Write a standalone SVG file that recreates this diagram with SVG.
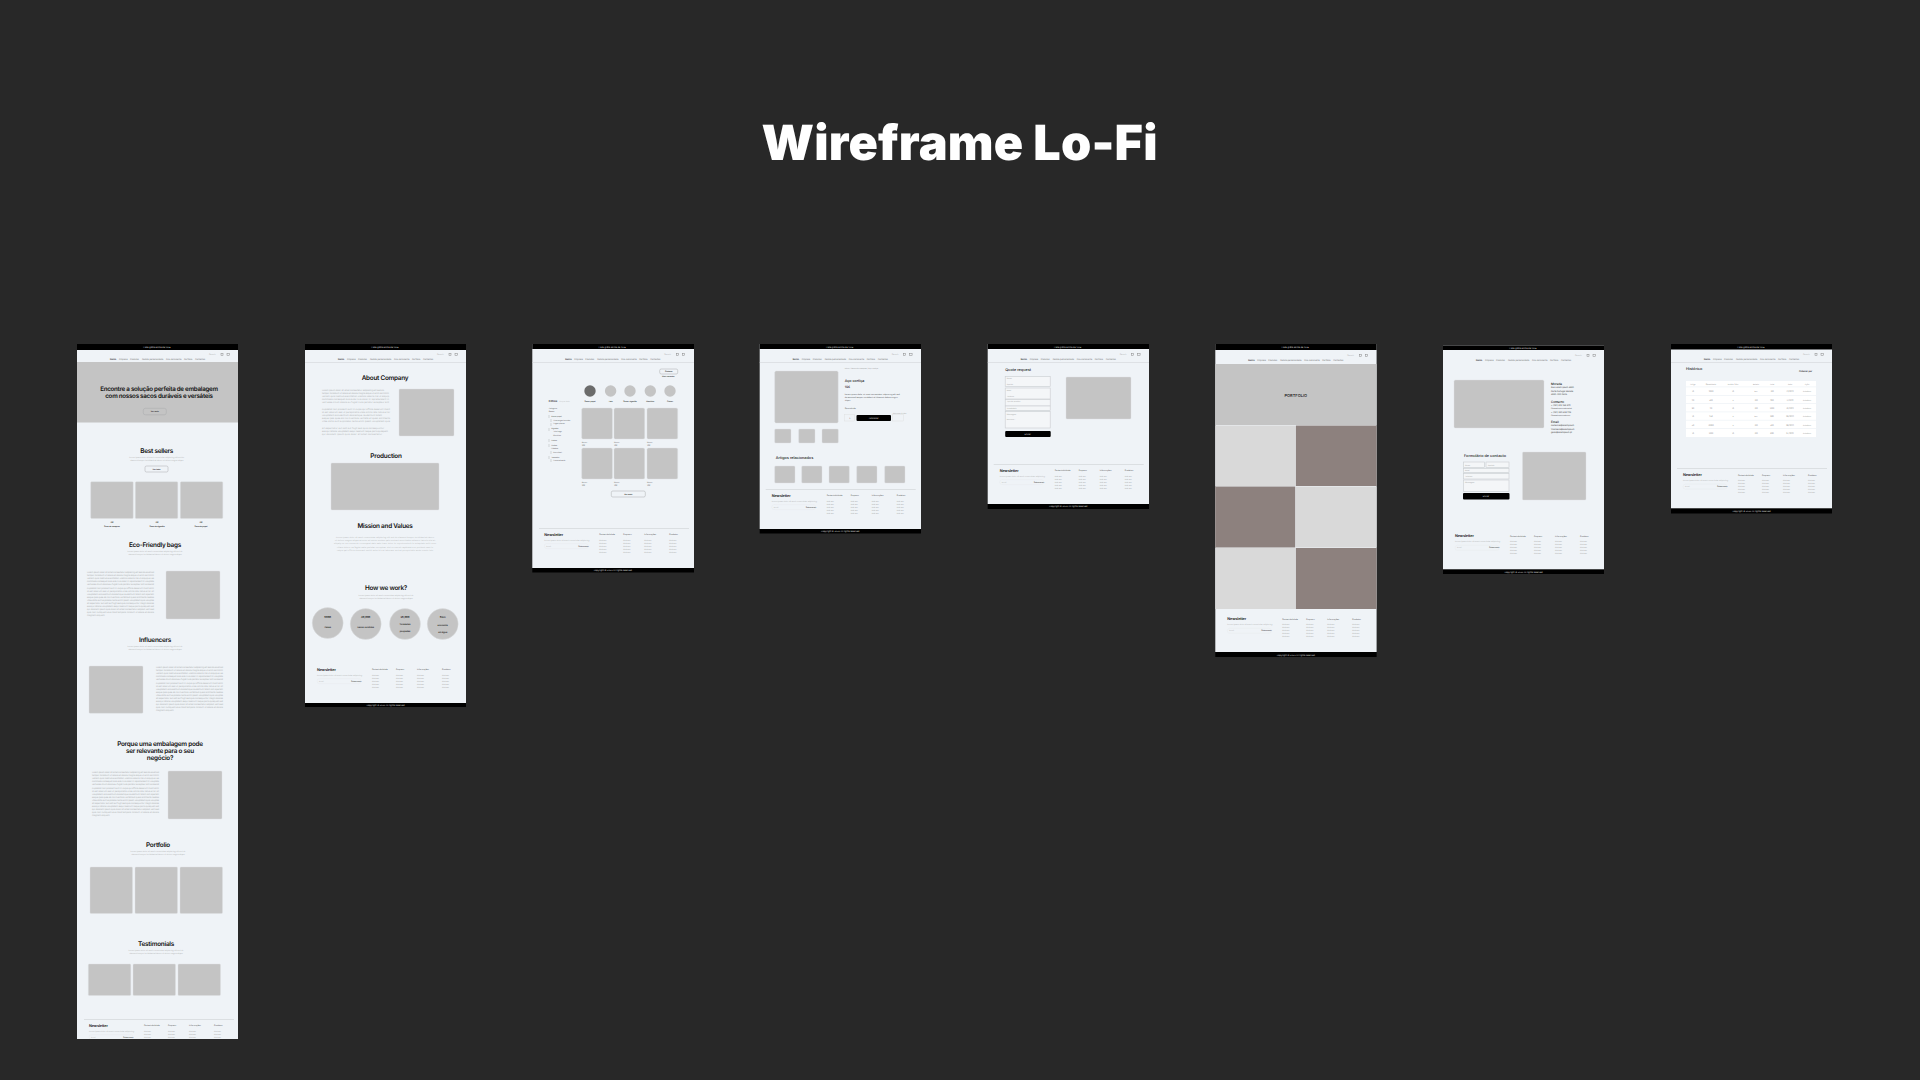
<svg xmlns="http://www.w3.org/2000/svg" width="1920" height="1080" viewBox="0 0 1920 1080">
<style>
svg{font-family:Inter,"Liberation Sans",sans-serif;text-rendering:geometricPrecision}
.f{fill:#eff3f7}
.k{fill:#000}
.i{fill:#c4c4c4;stroke:#dde0e3;stroke-width:.4}
text{fill:#111}
.h{font-size:6.4px;font-weight:600;text-anchor:middle;letter-spacing:-.25px;fill:#111}
.s{font-size:1.9px;fill:#aaa;text-anchor:middle}
.p{font-size:2.2px;fill:#b2b4b6}
.p text{fill:#b2b4b6}
.b{font-size:1.9px;font-weight:600;text-anchor:middle;fill:#222}
.l{font-size:2.1px;fill:#777}
.r{fill:#d3d6d9}
.o{fill:none;stroke:#a9abad;stroke-width:.5}
.in{fill:#f4f6f8;stroke:#c9cccf;stroke-width:.6}
.t{font-size:2.2px;fill:#ddd;text-anchor:middle}
.g1 text{fill:#999}.g2 text{fill:#666}.g3 text{fill:#444}.g4 text{fill:#aaa}.g5 text{fill:#888}.g6 text{fill:#555}
</style>
<defs>
<clipPath id="c1"><rect x="0" y="344" width="161" height="695"/></clipPath>
<g id="nav">
<text x="33" y="0" font-size="2.4" font-weight="700">Início</text>
<text x="42" y="0" class="l">Empresa</text>
<text x="53" y="0" class="l">Produtos</text>
<text x="65" y="0" class="l">Pedido personalizado</text>
<text x="89" y="0" class="l">Eco-consciente</text>
<text x="107" y="0" class="l">Portfólio</text>
<text x="118" y="0" class="l">Contactos</text>
<text x="132" y="-5" font-size="2" style="fill:#aaa">Search</text>
<rect x="144" y="-6.6" width="2" height="2" fill="none" stroke="#888" stroke-width=".5"/>
<rect x="150" y="-6.6" width="2.4" height="2.2" fill="none" stroke="#888" stroke-width=".5"/>
</g>
<g id="footer">
<text x="12" y="1.5" font-size="3.8" font-weight="600" letter-spacing="-.1">Newsletter</text>
<text x="12" y="6.6" font-size="1.9" style="fill:#aaa">Lorem ipsum dolor sit amet consectetur adipiscing</text>
<rect x="12" y="9.6" width="44" height="5" rx="2.5" fill="none" stroke="#e6e9ec" stroke-width=".4"/>
<text x="14" y="12.8" font-size="1.9" style="fill:#bbb">Email</text>
<text x="46" y="12.8" font-size="1.9" font-weight="600" style="fill:#555">Subscrever</text>
<g font-size="2" class="g3">
<text x="67" y="1">Sustentabilidade</text><text x="91" y="1">Empresa</text><text x="112" y="1">Informações</text><text x="137" y="1">Produtos</text>
</g>
<g font-size="1.9" class="g1">
<text x="67" y="6.5">Link um</text><text x="67" y="9.5">Link um</text><text x="67" y="12.5">Link um</text><text x="67" y="15.5">Link um</text><text x="67" y="18.5">Link um</text>
<text x="91" y="6.5">Link um</text><text x="91" y="9.5">Link um</text><text x="91" y="12.5">Link um</text><text x="91" y="15.5">Link um</text><text x="91" y="18.5">Link um</text>
<text x="112" y="6.5">Link um</text><text x="112" y="9.5">Link um</text><text x="112" y="12.5">Link um</text><text x="112" y="15.5">Link um</text><text x="112" y="18.5">Link um</text>
<text x="137" y="6.5">Link um</text><text x="137" y="9.5">Link um</text><text x="137" y="12.5">Link um</text><text x="137" y="15.5">Link um</text><text x="137" y="18.5">Link um</text>
</g>
</g>
<g id="sub">
<text x="0" y="0" class="s">Lorem ipsum dolor sit amet consectetur adipiscing elit sed do</text>
<text x="0" y="3.4" class="s">eiusmod tempor incididunt ut labore et dolore magna aliqua</text>
</g>
<g id="lorem" class="p">
<text y="0" textLength="67" lengthAdjust="spacing">Lorem ipsum dolor sit amet consectetur adipiscing elit sed do eiusmod</text>
<text y="3.1" textLength="67" lengthAdjust="spacing">tempor incididunt ut labore et dolore magna aliqua ut enim ad minim</text>
<text y="6.2" textLength="67" lengthAdjust="spacing">veniam quis nostrud exercitation ullamco laboris nisi ut aliquip ex ea</text>
<text y="9.3" textLength="67" lengthAdjust="spacing">commodo consequat duis aute irure dolor in reprehenderit in voluptate</text>
<text y="12.4" textLength="67" lengthAdjust="spacing">velit esse cillum dolore eu fugiat nulla pariatur excepteur sint occaecat</text>
<text y="15.5" textLength="67" lengthAdjust="spacing">cupidatat non proident sunt in culpa qui officia deserunt mollit anim</text>
<text y="18.6" textLength="67" lengthAdjust="spacing">id est laborum sed ut perspiciatis unde omnis iste natus error sit</text>
<text y="21.7" textLength="67" lengthAdjust="spacing">voluptatem accusantium doloremque laudantium totam rem aperiam</text>
<text y="24.8" textLength="67" lengthAdjust="spacing">eaque ipsa quae ab illo inventore veritatis et quasi architecto beatae</text>
<text y="27.9" textLength="67" lengthAdjust="spacing">vitae dicta sunt explicabo nemo enim ipsam voluptatem quia voluptas</text>
<text y="31" textLength="67" lengthAdjust="spacing">sit aspernatur aut odit aut fugit sed quia consequuntur magni dolores</text>
<text y="34.1" textLength="67" lengthAdjust="spacing">eos qui ratione voluptatem sequi nesciunt neque porro quisquam est</text>
<text y="37.2" textLength="67" lengthAdjust="spacing">qui dolorem ipsum quia dolor sit amet consectetur adipisci velit sed</text>
<text y="40.3" textLength="67" lengthAdjust="spacing">quia non numquam eius modi tempora incidunt ut labore et dolore</text>
<text y="43.4">magnam aliquam</text>
</g>
</defs>
<rect width="1920" height="1080" fill="#282828"/>
<text id="title" x="761.500" y="160" font-size="48.500" font-weight="900" textLength="396" lengthAdjust="spacing" style="fill:#fff">Wireframe Lo-Fi</text>

<g id="frame-home" transform="translate(77,0)" clip-path="url(#c1)">
<rect y="344" width="161" height="695" class="f"/><rect y="344" width="161" height="6" class="k"/>
<text x="80" y="348" class="t">Frete grátis acima de 100€</text>
<use href="#nav" y="360"/>
<rect y="362" width="161" height="60.500" fill="#c4c4c4"/>
<text x="82" y="391" class="h" style="font-size:6.2px">Encontre a solução perfeita de embalagem</text>
<text x="82" y="398.200" class="h" style="font-size:6.2px">com nossos sacos duráveis e versáteis</text>
<rect x="66.300" y="408.300" width="23" height="6.500" rx="2" class="o"/><text x="77.800" y="412.300" class="b">Ver mais</text>
<text x="79.700" y="453" class="h">Best sellers</text><use href="#sub" x="79.700" y="457.500"/>
<rect x="68" y="466" width="23" height="6" rx="1.500" class="o"/><text x="79.500" y="469.800" class="b">Ver tudo</text>
<rect x="13.700" y="481.700" width="42.500" height="36.800" rx="1" class="i"/><rect x="58.300" y="481.700" width="42.500" height="36.800" rx="1" class="i"/><rect x="103.300" y="481.700" width="42.500" height="36.800" rx="1" class="i"/>
<text x="35" y="523" class="b">10€</text><text x="35" y="527" class="b">Saco de compras</text>
<text x="80" y="523" class="b">10€</text><text x="80" y="527" class="b">Saco de algodão</text>
<text x="124" y="523" class="b">10€</text><text x="124" y="527" class="b">Saco de papel</text>
<text x="78" y="547.300" class="h">Eco-Friendly bags</text><use href="#sub" x="78" y="552"/>
<use href="#lorem" x="10" y="573"/>
<rect x="89" y="571" width="54" height="48" rx="1" class="i"/>
<text x="78" y="642.300" class="h">Influencers</text><use href="#sub" x="78" y="647"/>
<rect x="12" y="666" width="54" height="47.300" rx="1" class="i"/>
<use href="#lorem" x="79" y="668"/>
<text x="83" y="746.300" class="h">Porque uma embalagem pode</text>
<text x="83" y="753.300" class="h">ser relevante para o seu</text>
<text x="83" y="760.300" class="h">negócio?</text>
<use href="#lorem" x="15" y="773"/>
<rect x="91" y="771" width="54" height="48" rx="1" class="i"/>
<text x="81" y="846.800" class="h">Portfolio</text><use href="#sub" x="81" y="851.500"/>
<rect x="13" y="867" width="42.500" height="46.500" rx="1" class="i"/><rect x="58" y="867" width="42.500" height="46.500" rx="1" class="i"/><rect x="103" y="867" width="42.500" height="46.500" rx="1" class="i"/>
<text x="79" y="946.300" class="h">Testimonials</text><use href="#sub" x="79" y="950.500"/>
<rect x="11.300" y="964" width="42.500" height="31.500" rx="1" class="i"/><rect x="56" y="964" width="42.500" height="31.500" rx="1" class="i"/><rect x="101" y="964" width="42.500" height="31.500" rx="1" class="i"/>
<rect x="7" y="1019.300" width="150" height=".7" class="r"/>
<use href="#footer" y="1025"/>
</g>

<g id="frame-about" transform="translate(305,0)">
<rect y="344" width="161" height="359" class="f"/><rect y="344" width="161" height="6" class="k"/><rect y="703" width="161" height="4" class="k"/>
<text x="80" y="348" class="t">Frete grátis acima de 100€</text>
<use href="#nav" y="360"/><rect y="362" width="161" height=".6" class="r"/>
<text x="80" y="379.800" class="h">About Company</text>
<g transform="translate(17,390.500)">
<text class="p" y="0" textLength="62">Lorem ipsum dolor sit amet consectetur adipiscing elit sed do</text><text class="p" y="3.100" textLength="67">tempor incididunt ut labore et dolore magna aliqua ut enim ad minim</text><text class="p" y="6.200" textLength="67">veniam quis nostrud exercitation ullamco laboris nisi ut aliquip</text><text class="p" y="9.300" textLength="67">commodo consequat duis aute irure dolor in reprehenderit in</text><text class="p" y="12.400" textLength="67">velit esse cillum dolore eu fugiat nulla pariatur excepteur sint</text>
<text class="p" y="19" textLength="68">cupidatat non proident sunt in culpa qui officia deserunt mollit</text><text class="p" y="22.100" textLength="68">id est laborum sed ut perspiciatis unde omnis iste natus error</text><text class="p" y="25.200" textLength="60">voluptatem accusantium doloremque laudantium totam</text><text class="p" y="28.300" textLength="68">eaque ipsa quae ab illo inventore veritatis et quasi architecto</text><text class="p" y="31.400" textLength="68">vitae dicta sunt explicabo nemo enim ipsam voluptatem quia</text>
<text class="p" y="38" textLength="62">sit aspernatur aut odit aut fugit sed quia consequuntur</text><text class="p" y="41.100" textLength="66">eos qui ratione voluptatem sequi nesciunt neque porro quisquam</text><text class="p" y="44.200" textLength="60">qui dolorem ipsum quia dolor sit amet consectetur</text>
</g>
<rect x="94" y="389" width="55" height="47" rx="1" class="i"/>
<text x="81" y="458.300" class="h">Production</text>
<rect x="26" y="463" width="108" height="47" rx="1" class="i"/>
<text x="80" y="528.300" class="h">Mission and Values</text>
<text class="s" x="80" y="538" textLength="98">Lorem ipsum dolor sit amet consectetur adipiscing elit sed do eiusmod tempor incididunt ut labore</text>
<text class="s" x="80" y="541.200" textLength="100">et dolore magna aliqua ut enim ad minim veniam quis nostrud exercitation ullamco laboris nisi ut</text>
<text class="s" x="80" y="544.400" textLength="102">aliquip ex ea commodo consequat duis aute irure dolor in reprehenderit in voluptate velit esse</text>
<text class="s" x="80" y="547.600" textLength="96">cillum dolore eu fugiat nulla pariatur excepteur sint occaecat cupidatat non proident sunt in</text>
<text class="s" x="80" y="550.800" textLength="96">culpa qui officia deserunt mollit anim id est laborum sed ut perspiciatis unde omnis iste</text>
<text x="81" y="590.300" class="h">How we work?</text><use href="#sub" x="81" y="595.500"/>
<circle cx="22.700" cy="623" r="15.500" class="i"/><circle cx="60.700" cy="624" r="15.500" class="i"/><circle cx="100" cy="624" r="15.500" class="i"/><circle cx="137.700" cy="624" r="15.500" class="i"/>
<text x="22.700" y="618" class="b" style="font-size:2.6px">5000</text><text x="22.700" y="628" class="b" style="font-size:2.2px">Cases</text>
<text x="60.700" y="618" class="b" style="font-size:2.6px">40,000</text><text x="60.700" y="628" class="b" style="font-size:2.2px">Sacos vendidos</text>
<text x="100" y="618" class="b" style="font-size:2.6px">35,000</text><text x="100" y="625" class="b" style="font-size:2.2px">Toneladas</text><text x="100" y="632" class="b" style="font-size:2.2px">poupadas</text>
<text x="137.700" y="618" class="b" style="font-size:2.6px">5ton</text><text x="137.700" y="626" class="b" style="font-size:2.2px">economia</text><text x="137.700" y="633" class="b" style="font-size:2.2px">em água</text>
<use href="#footer" y="669"/>
<text x="80.500" y="706" class="t">Copyright © 2023 All rights reserved</text>
</g>

<g id="frame-products" transform="translate(532.300,0)">
<rect y="344" width="161.700" height="224" class="f"/><rect y="344" width="161.700" height="5" class="k"/><rect y="568" width="161.700" height="4.500" class="k"/>
<text x="80" y="347.500" class="t">Frete grátis acima de 100€</text>
<use href="#nav" y="360"/><rect y="362" width="161.700" height=".6" class="r"/>
<rect x="127.400" y="369" width="18" height="5" rx="1.500" class="o"/><text x="136.500" y="372.300" class="b">Ordenar</text>
<text x="136" y="376.500" class="b" style="font-weight:500">Mais recentes</text>
<circle cx="57.700" cy="391" r="5.700" fill="#6b6b6b"/><circle cx="78.300" cy="391" r="5.700" fill="#c4c4c4"/><circle cx="97.700" cy="391" r="5.700" fill="#c4c4c4"/><circle cx="118" cy="391" r="5.700" fill="#c4c4c4"/><circle cx="137.700" cy="391" r="5.700" fill="#c4c4c4"/>
<text class="b" style="font-weight:500" x="57.700" y="401.500">Sacos papel</text><text class="b" style="font-weight:500" x="78.300" y="401.500">Tote</text><text class="b" style="font-weight:500" x="97.700" y="401.500">Sacos algodão</text><text class="b" style="font-weight:500" x="118" y="401.500">Mochilas</text><text class="b" style="font-weight:500" x="137.700" y="401.500">Outros</text>
<text x="16.500" y="402" font-size="2.800" font-weight="600">Filtros</text><text x="27" y="402" font-size="1.900" style="fill:#bbb">Limpar tudo</text>
<g font-size="1.800" class="g2">
<text x="16.500" y="408.500">Categoria</text><text x="16.500" y="412" font-weight="600">Sacos</text>
<text x="19" y="416.500" font-weight="500">Sacos papel</text><text x="21" y="420.500">Com pegas torcidas</text><text x="21" y="424">Pegas planas</text>
<text x="19" y="429" font-weight="500">Algodão</text><text x="21" y="432.300">Tote bags</text><text x="21" y="436">Mochilas</text>
<text x="19" y="441" font-weight="500">Outros</text><text x="19" y="445.500" font-weight="500">Cartão</text><text x="19" y="449" font-weight="500">Plástico</text><text x="21" y="453">Reciclável</text>
<text x="19" y="458" font-weight="500">Tamanho</text><text x="21" y="461">Personalizado</text>
</g>
<path d="M16.700 415v3M16.700 428v3M18.700 419v3M18.700 423v3M16.700 439v3M16.700 444v3M18.700 451v3M16.700 456v3M18.700 459v3" fill="none" stroke="#999" stroke-width=".35"/>
<rect x="49.400" y="408" width="30.700" height="31" rx="1.500" class="i"/><rect x="81.700" y="408" width="30.700" height="31" rx="1.500" class="i"/><rect x="114.700" y="408" width="30.700" height="31" rx="1.500" class="i"/>
<rect x="49.400" y="448" width="30.700" height="31" rx="1.500" class="i"/><rect x="81.700" y="448" width="30.700" height="31" rx="1.500" class="i"/><rect x="114.700" y="448" width="30.700" height="31" rx="1.500" class="i"/>
<g font-size="1.900" class="g6"><text x="49.400" y="443">Nome</text><text x="49.400" y="446">10€</text><text x="81.700" y="443">Nome</text><text x="81.700" y="446">10€</text><text x="114.700" y="443">Nome</text><text x="114.700" y="446">10€</text>
<text x="49.400" y="483">Nome</text><text x="49.400" y="486">10€</text><text x="81.700" y="483">Nome</text><text x="81.700" y="486">10€</text><text x="114.700" y="483">Nome</text><text x="114.700" y="486">10€</text></g>
<rect x="79" y="491" width="34" height="6" rx="1.500" class="o"/><text x="96" y="494.800" class="b">Ver mais</text>
<rect x="6.700" y="528" width="150" height=".7" class="r"/>
<use href="#footer" y="534"/>
<text x="80.500" y="571" class="t">Copyright © 2023 All rights reserved</text>
</g>

<g id="frame-product" transform="translate(759.700,0)">
<rect y="344" width="161.300" height="185" class="f"/><rect y="344" width="161.300" height="5" class="k"/><rect y="529" width="161.300" height="4.500" class="k"/>
<text x="80" y="347.500" class="t">Frete grátis acima de 100€</text>
<use href="#nav" y="360"/><rect y="362" width="161.300" height=".6" class="r"/>
<text x="85" y="369" font-size="1.800" style="fill:#999">Início / Sacos de compras / Aço cortiça</text>
<rect x="15" y="371" width="63.500" height="52" rx="1.500" class="i"/>
<rect x="15" y="429" width="16.300" height="14" rx="1" class="i"/><rect x="39" y="429" width="16.300" height="14" rx="1" class="i"/><rect x="62.300" y="429" width="16.300" height="14" rx="1" class="i"/>
<text x="85" y="381.500" font-size="3.600" font-weight="500">Aço cortiça</text>
<text x="85" y="388" font-size="3.200" font-weight="500">10€</text>
<g font-size="2" class="g3"><text x="85" y="394.500">Lorem ipsum dolor sit amet consectetur adipiscing elit sed</text><text x="85" y="397.500">do eiusmod tempor incididunt ut labore et dolore magna</text><text x="85" y="400.500">aliqua</text><text x="85" y="408.500">Quantidade</text></g>
<rect x="85" y="414.500" width="10" height="6.500" fill="none" stroke="#ddd" stroke-width=".4"/><text x="90" y="418.500" class="b">1</text>
<rect x="96.800" y="415" width="34.500" height="6" rx="1" fill="#000"/><text x="114" y="418.800" class="t">Adicionar</text>
<text x="133" y="413.500" font-size="1.800" style="fill:#aaa">Adicionar à lista</text>
<rect x="133" y="414.500" width="11" height="6.500" fill="none" stroke="#ddd" stroke-width=".4"/>
<text x="16" y="459" font-size="3.800" font-weight="500">Artigos relacionados</text>
<rect x="15" y="466" width="20.300" height="17" rx="1" class="i"/><rect x="42" y="466" width="20.300" height="17" rx="1" class="i"/><rect x="69.300" y="466" width="20.300" height="17" rx="1" class="i"/><rect x="97" y="466" width="20.300" height="17" rx="1" class="i"/><rect x="125" y="466" width="20.300" height="17" rx="1" class="i"/>
<rect x="6" y="489.300" width="150" height=".7" class="r"/>
<use href="#footer" y="495"/>
<text x="80.500" y="532.300" class="t">Copyright © 2023 All rights reserved</text>
</g>

<g id="frame-quote" transform="translate(987.700,0)">
<rect y="344" width="161.300" height="160" class="f"/><rect y="344" width="161.300" height="5" class="k"/><rect y="504" width="161.300" height="5" class="k"/>
<text x="80" y="347.500" class="t">Frete grátis acima de 100€</text>
<use href="#nav" y="360"/><rect y="362" width="161.300" height=".6" class="r"/>
<text x="17.500" y="370.500" font-size="3.800" font-weight="500">Quote request</text>
<rect x="17.500" y="376.500" width="45" height="10" class="in"/><rect x="17.500" y="388" width="45" height="11" class="in"/><rect x="17.500" y="399.500" width="45" height="6.500" class="in"/><rect x="17.500" y="406" width="45" height="4.500" class="in"/><rect x="17.500" y="411.500" width="45" height="16.500" class="in"/>
<g font-size="1.800" class="g4"><text x="19" y="379">Nome</text><text x="19" y="384.500">Apelido</text><text x="19" y="391">Email</text><text x="19" y="396.500">Telefone</text><text x="19" y="402">Tipo de produto</text><text x="19" y="408.500">Quantidade</text><text x="19" y="414.500">Mensagem</text><text x="19" y="420">Escrever...</text></g>
<rect x="17.500" y="431" width="45.500" height="6" rx="1" fill="#000"/><text x="40" y="434.800" class="t">Enviar</text>
<rect x="78.300" y="377" width="65" height="42" rx="1" class="i"/>
<rect x="6" y="464.300" width="150" height=".7" class="r"/>
<use href="#footer" y="470"/>
<text x="80.500" y="507.300" class="t">Copyright © 2023 All rights reserved</text>
</g>

<g id="frame-portfolio" transform="translate(1215.300,0)">
<rect y="344" width="161.300" height="308" class="f"/><rect y="344" width="161.300" height="6" class="k"/><rect y="652" width="161.300" height="5" class="k"/>
<text x="80" y="348" class="t">Frete grátis acima de 100€</text>
<use href="#nav" y="361"/>
<rect y="364" width="161.300" height="61" fill="#c4c4c4"/>
<text x="80.500" y="396.500" text-anchor="middle" font-size="4" font-weight="500">PORTFOLIO</text>
<rect y="425.500" width="80" height="60.500" fill="#d9d9d9"/><rect x="80.500" y="425.500" width="80.800" height="60.500" fill="#8d817e"/>
<rect y="486.500" width="80" height="61" fill="#8d817e"/><rect x="80.500" y="486.500" width="80.800" height="61" fill="#d9d9d9"/>
<rect y="548" width="80" height="61" fill="#d9d9d9"/><rect x="80.500" y="548" width="80.800" height="61" fill="#8d817e"/>
<use href="#footer" y="618.700"/>
<text x="80.500" y="655.500" class="t">Copyright © 2023 All rights reserved</text>
</g>

<g id="frame-contact" transform="translate(1443,0)">
<rect y="345.500" width="161" height="224" class="f"/><rect y="345.500" width="161" height="4.500" class="k"/><rect y="569.500" width="161" height="4.500" class="k"/>
<text x="80" y="348.800" class="t">Frete grátis acima de 100€</text>
<use href="#nav" y="361"/>
<rect x="11" y="380" width="90" height="48" rx="1.500" class="i"/>
<text x="108" y="384.500" font-size="3" font-weight="500">Morada</text>
<g font-size="2.100" class="g3"><text x="108" y="388.300">Rua Lorem Ipsum 4920</text><text x="108" y="391.500">Porto Portugal Morada</text><text x="108" y="394.700">4520-000 Porto</text></g>
<text x="108" y="402.800" font-size="3" font-weight="500">Contacto</text>
<g font-size="2.100" class="g3"><text x="108" y="406.300">+ (351) 912 345 678</text><text x="108" y="409.300" font-size="1.700">Chamada para rede móvel</text><text x="108" y="412.800">+ (351) 223 456 789</text><text x="108" y="415.800" font-size="1.700">Chamada para rede fixa</text></g>
<text x="108" y="422.500" font-size="3" font-weight="500">Email</text>
<g font-size="2.100" class="g3"><text x="108" y="426.300">comercial@loremipsum</text><text x="108" y="429.500">financeiro@loremipsum</text><text x="108" y="432.700">geral@loremipsum.pt</text></g>
<text x="21" y="456.500" font-size="3.800" font-weight="500">Formulário de contacto</text>
<rect x="20.500" y="462" width="21" height="5.500" class="in"/><rect x="43" y="462" width="23" height="5.500" class="in"/><rect x="20.500" y="468.500" width="45.500" height="4" class="in"/><rect x="20.500" y="473.500" width="45.500" height="5.500" class="in"/><rect x="20.500" y="480" width="45.500" height="11.500" class="in"/>
<g font-size="1.800" class="g4"><text x="22" y="465.500">Nome</text><text x="45" y="465.500">Apelido</text><text x="22" y="471.300">Email</text><text x="22" y="477">Telefone</text><text x="22" y="483">Mensagem</text></g>
<rect x="20" y="493" width="46.500" height="6.500" rx="1" fill="#000"/><text x="43" y="497" class="t">Enviar</text>
<rect x="79.500" y="452" width="63.500" height="48" rx="1" class="i"/>
<use href="#footer" y="535.700"/>
<text x="80.500" y="572.500" class="t">Copyright © 2023 All rights reserved</text>
</g>

<g id="frame-history" transform="translate(1671,0)">
<rect y="344" width="161" height="164.500" class="f"/><rect y="344" width="161" height="5.500" class="k"/><rect y="508.500" width="161" height="5" class="k"/>
<text x="80" y="348" class="t">Frete grátis acima de 100€</text>
<use href="#nav" y="360"/><rect y="362" width="161" height=".6" class="r"/>
<text x="15" y="369.500" font-size="3.800" font-weight="500">Histórico</text>
<text x="128" y="371.500" font-size="2.300" font-weight="500">Ordenar por</text>
<rect x="15" y="381" width="130" height="56" fill="#fff"/>
<g fill="#eff3f7"><rect x="15" y="386.500" width="130" height=".8"/><rect x="15" y="395" width="130" height=".8"/><rect x="15" y="403.200" width="130" height=".8"/><rect x="15" y="411.500" width="130" height=".8"/><rect x="15" y="419.800" width="130" height=".8"/><rect x="15" y="428" width="130" height=".8"/></g>
<g font-size="1.900" class="g5" text-anchor="middle">
<text x="22" y="384.500">Artigo</text><text x="40" y="384.500">Quantidade</text><text x="62" y="384.500">Pedido feito</text><text x="85" y="384.500">Estado</text><text x="101" y="384.500">Total</text><text x="119" y="384.500">Data</text><text x="136" y="384.500">Ação</text>
<text x="22" y="392">10</text><text x="40" y="392">2000</text><text x="62" y="392">10</text><text x="85" y="392">Em</text><text x="101" y="392">100</text><text x="119" y="392">12/2022</text><text x="136" y="392">Detalhes</text>
<text x="22" y="400.500">20</text><text x="40" y="400.500">500</text><text x="62" y="400.500">5</text><text x="85" y="400.500">100</text><text x="101" y="400.500">200</text><text x="119" y="400.500">11/2022</text><text x="136" y="400.500">Detalhes</text>
<text x="22" y="409">30</text><text x="40" y="409">20</text><text x="62" y="409">10</text><text x="85" y="409">100</text><text x="101" y="409">1000</text><text x="119" y="409">10/2022</text><text x="136" y="409">Detalhes</text>
<text x="22" y="417">10</text><text x="40" y="417">250</text><text x="62" y="417">5</text><text x="85" y="417">Em</text><text x="101" y="417">300</text><text x="119" y="417">09/2022</text><text x="136" y="417">Detalhes</text>
<text x="22" y="425.500">40</text><text x="40" y="425.500">10000</text><text x="62" y="425.500">5</text><text x="85" y="425.500">100</text><text x="101" y="425.500">500</text><text x="119" y="425.500">08/2022</text><text x="136" y="425.500">Detalhes</text>
<text x="22" y="433.500">10</text><text x="40" y="433.500">1000</text><text x="62" y="433.500">10</text><text x="85" y="433.500">100</text><text x="101" y="433.500">600</text><text x="119" y="433.500">07/2022</text><text x="136" y="433.500">Detalhes</text>
</g>
<rect x="6" y="468" width="150" height=".7" class="r"/>
<use href="#footer" y="474.500"/>
<text x="80.500" y="511.500" class="t">Copyright © 2023 All rights reserved</text>
</g>
</svg>
